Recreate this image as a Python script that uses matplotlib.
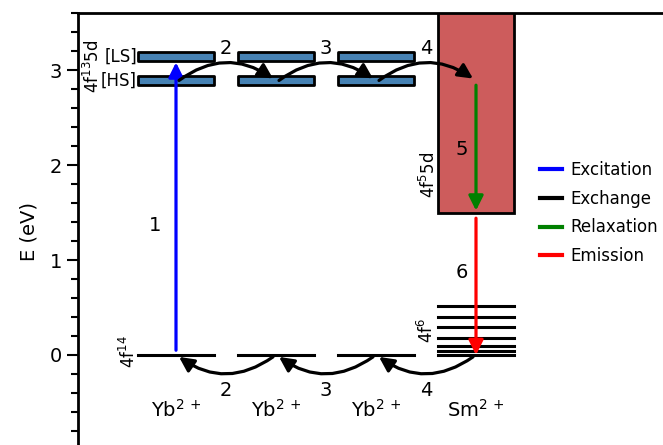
import matplotlib
matplotlib.use("Agg")
import matplotlib.pyplot as plt
from matplotlib.patches import Rectangle

# energy levels (eV)
ions = ["Yb$^{2\\,+}$", "Yb$^{2\\,+}$", "Yb$^{2\\,+}$", "Sm$^{2\\,+}$"]
ion_x = [0.98, 1.98, 2.98, 3.98]
ls_level = 3.14
hs_level = 2.89
ground = 0.0
sm_4f6 = [0.0, 0.04, 0.10, 0.18, 0.29, 0.40, 0.52]
sm_5d_bottom = 1.5

# transitions
excitation = (0.05, 3.08)
relaxation = (2.84, 1.52)
emission = (1.44, 0.0)
exchange_top = 2.89
exchange_bot = -0.02

legend_names = ["Excitation", "Exchange", "Relaxation", "Emission"]
legend_colors = ["blue", "black", "green", "red"]

half = 0.38

fig = plt.figure(figsize=(6.63, 4.45), dpi=100)
ax = fig.add_axes([78 / 663, -5 / 445, 622 / 663, 437 / 445])
ax.set_xlim(0.0, 6.22)
ax.set_ylim(-1.0, 3.6)

# Yb levels
for x in ion_x[:3]:
    for lvl in [ls_level, hs_level]:
        ax.add_patch(Rectangle((x - half, lvl - 0.05), 2 * half, 0.1,
                               facecolor="steelblue", edgecolor="black", lw=2,
                               joinstyle="round", zorder=3))
    ax.plot([x - half, x + half], [ground, ground], color="black", lw=2.2, zorder=3)

# Sm levels
xs = ion_x[3]
ax.add_patch(Rectangle((xs - half, sm_5d_bottom), 2 * half, 5,
                       facecolor="indianred", edgecolor="black", lw=2, zorder=1))
for lvl in sm_4f6:
    ax.plot([xs - half, xs + half], [lvl, lvl], color="black", lw=2.2, zorder=3)

arrow_kw = dict(arrowstyle="-|>", mutation_scale=22, shrinkA=0, shrinkB=0)

# excitation
ax.annotate("", xy=(ion_x[0], excitation[1]), xytext=(ion_x[0], excitation[0]),
            arrowprops=dict(color="blue", lw=2.3, **arrow_kw), zorder=4)
# relaxation, emission
ax.annotate("", xy=(xs, relaxation[1]), xytext=(xs, relaxation[0]),
            arrowprops=dict(color="green", lw=2.3, **arrow_kw), zorder=4)
ax.annotate("", xy=(xs, emission[1]), xytext=(xs, emission[0]),
            arrowprops=dict(color="red", lw=2.3, **arrow_kw), zorder=4)

# exchange arrows
for i in range(3):
    ax.annotate("", xy=(ion_x[i + 1] - 0.03, exchange_top + 0.02),
                xytext=(ion_x[i] + 0.03, exchange_top),
                arrowprops=dict(color="black", lw=2.3,
                                connectionstyle="arc3,rad=-0.35", **arrow_kw),
                zorder=5)
    ax.annotate("", xy=(ion_x[i] + 0.03, exchange_bot),
                xytext=(ion_x[i + 1] - 0.03, exchange_bot),
                arrowprops=dict(color="black", lw=2.3,
                                connectionstyle="arc3,rad=-0.35", **arrow_kw),
                zorder=5)
    ax.text(ion_x[i] + 0.5, 3.23, str(i + 2), fontsize=14, ha="center", va="center")
    ax.text(ion_x[i] + 0.5, -0.37, str(i + 2), fontsize=14, ha="center", va="center")

ax.text(0.77, 1.36, "1", fontsize=14, ha="center", va="center")
ax.text(3.84, 2.16, "5", fontsize=14, ha="center", va="center")
ax.text(3.84, 0.87, "6", fontsize=14, ha="center", va="center")

for x, name in zip(ion_x, ions):
    ax.text(x, -0.58, name, fontsize=14, ha="center", va="center")

# state labels
ax.text(0.15, 3.04, "4f$^{13}$5d", fontsize=12, rotation=90, ha="center", va="center")
ax.text(0.59, ls_level, "[LS]", fontsize=12, ha="right", va="center")
ax.text(0.59, hs_level, "[HS]", fontsize=12, ha="right", va="center")
ax.text(0.51, 0.03, "4f$^{14}$", fontsize=12, rotation=90, ha="center", va="center")
ax.text(3.49, 0.26, "4f$^{6}$", fontsize=12, rotation=90, ha="center", va="center")
ax.text(3.51, 1.9, "4f$^{5}$5d", fontsize=12, rotation=90, ha="center", va="center")

# legend
for name, c in zip(legend_names, legend_colors):
    ax.plot([], [], color=c, lw=3, label=name)
ax.legend(loc="center left", bbox_to_anchor=(525 / 663, 1 - 213 / 445),
          bbox_transform=fig.transFigure, frameon=False, fontsize=12,
          handlelength=1.3, handletextpad=0.5, labelspacing=0.65)

ax.set_ylabel("E (eV)", fontsize=14, labelpad=8)
ax.set_yticks([0, 1, 2, 3])
ax.set_yticks([i * 0.2 - 1.0 for i in range(24)], minor=True)
ax.tick_params(axis="y", which="major", labelsize=14, length=8, width=1.5)
ax.tick_params(axis="y", which="minor", length=5, width=1.5)
ax.set_xticks([])
for s in ax.spines.values():
    s.set_linewidth(2)

fig.savefig("out.png", dpi=100)
